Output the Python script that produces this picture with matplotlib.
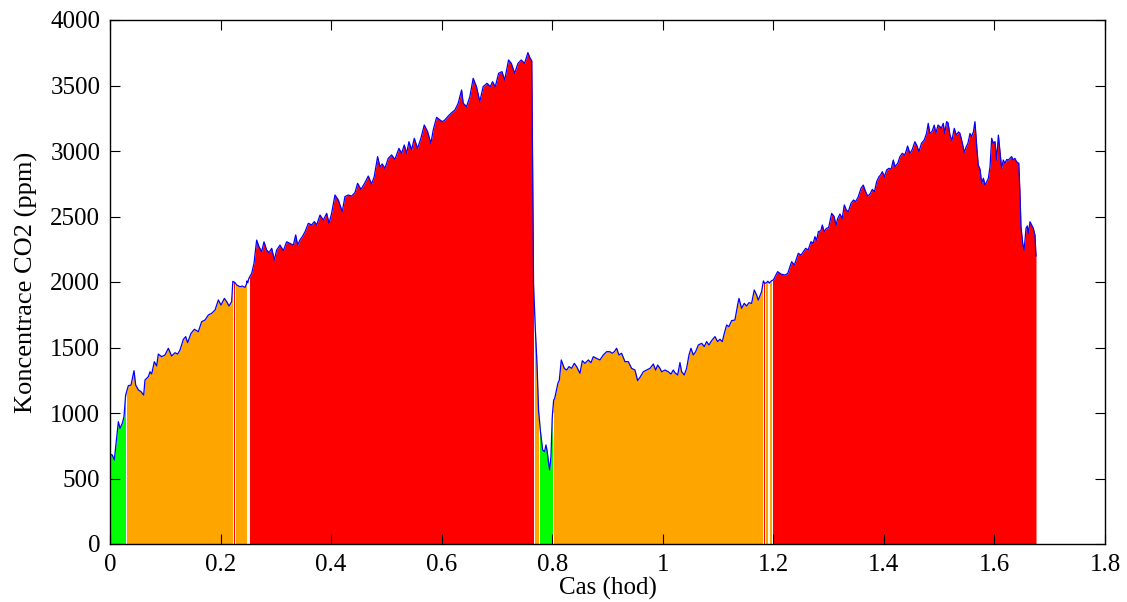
import numpy as np
import matplotlib
matplotlib.use("Agg")
import matplotlib.pyplot as plt
from matplotlib.ticker import FormatStrFormatter

# cas mereni (hod) a koncentrace CO2 (ppm)
hours = [
    0.0000, 0.0042, 0.0078, 0.0103, 0.0151, 0.0181, 0.0223, 0.0253, 0.0283, 0.0332,
    0.0380, 0.0434, 0.0465, 0.0513, 0.0561, 0.0609, 0.0633, 0.0693, 0.0724, 0.0754,
    0.0802, 0.0844, 0.0874, 0.0935, 0.0995, 0.1055, 0.1115, 0.1176, 0.1224, 0.1266,
    0.1327, 0.1369, 0.1405, 0.1465, 0.1526, 0.1598, 0.1658, 0.1719, 0.1779, 0.1839,
    0.1900, 0.1960, 0.2008, 0.2069, 0.2111, 0.2153, 0.2201, 0.2222, 0.2262, 0.2292,
    0.2352, 0.2394, 0.2443, 0.2470, 0.2478, 0.2490, 0.2515, 0.2563, 0.2605, 0.2653,
    0.2695, 0.2743, 0.2786, 0.2834, 0.2876, 0.2925, 0.2973, 0.3015, 0.3075, 0.3136,
    0.3196, 0.3256, 0.3317, 0.3359, 0.3395, 0.3437, 0.3479, 0.3528, 0.3588, 0.3648,
    0.3696, 0.3739, 0.3799, 0.3859, 0.3920, 0.3962, 0.4009, 0.4070, 0.4130, 0.4202,
    0.4250, 0.4311, 0.4371, 0.4431, 0.4479, 0.4540, 0.4612, 0.4672, 0.4732, 0.4780,
    0.4841, 0.4883, 0.4925, 0.4973, 0.5034, 0.5094, 0.5154, 0.5227, 0.5275, 0.5323,
    0.5366, 0.5408, 0.5456, 0.5504, 0.5564, 0.5624, 0.5685, 0.5745, 0.5805, 0.5847,
    0.5908, 0.5968, 0.6010, 0.6058, 0.6119, 0.6179, 0.6239, 0.6299, 0.6360, 0.6390,
    0.6450, 0.6510, 0.6570, 0.6630, 0.6690, 0.6750, 0.6820, 0.6880, 0.6920, 0.6970,
    0.7030, 0.7090, 0.7140, 0.7210, 0.7260, 0.7320, 0.7380, 0.7440, 0.7500, 0.7560,
    0.7600, 0.7630, 0.7662, 0.7693, 0.7724, 0.7754, 0.7760, 0.7784, 0.7826, 0.7862,
    0.7887, 0.7905, 0.7935, 0.7953, 0.7977, 0.8000, 0.8008, 0.8026, 0.8044, 0.8104,
    0.8128, 0.8164, 0.8218, 0.8261, 0.8303, 0.8351, 0.8399, 0.8442, 0.8502, 0.8544,
    0.8592, 0.8653, 0.8701, 0.8743, 0.8803, 0.8863, 0.8924, 0.8984, 0.9044, 0.9086,
    0.9123, 0.9165, 0.9207, 0.9255, 0.9316, 0.9376, 0.9436, 0.9497, 0.9545, 0.9587,
    0.9648, 0.9708, 0.9768, 0.9829, 0.9871, 0.9907, 0.9949, 0.9979, 1.0040, 1.0100,
    1.0148, 1.0190, 1.0220, 1.0269, 1.0311, 1.0341, 1.0389, 1.0431, 1.0474, 1.0510,
    1.0552, 1.0594, 1.0643, 1.0703, 1.0751, 1.0793, 1.0835, 1.0883, 1.0944, 1.0992,
    1.1034, 1.1077, 1.1113, 1.1155, 1.1197, 1.1245, 1.1305, 1.1354, 1.1378, 1.1426,
    1.1474, 1.1516, 1.1559, 1.1607, 1.1655, 1.1697, 1.1727, 1.1788, 1.1820, 1.1845,
    1.1880, 1.1900, 1.1925, 1.1975, 1.2000, 1.2078, 1.2140, 1.2211, 1.2260, 1.2331,
    1.2380, 1.2452, 1.2500, 1.2585, 1.2630, 1.2681, 1.2720, 1.2753, 1.2785, 1.2814,
    1.2860, 1.2886, 1.2920, 1.2960, 1.3000, 1.3055, 1.3100, 1.3133, 1.3165, 1.3205,
    1.3245, 1.3284, 1.3320, 1.3356, 1.3405, 1.3450, 1.3490, 1.3537, 1.3585, 1.3627,
    1.3660, 1.3706, 1.3750, 1.3790, 1.3830, 1.3869, 1.3911, 1.3940, 1.3971, 1.4010,
    1.4050, 1.4091, 1.4130, 1.4170, 1.4200, 1.4250, 1.4290, 1.4332, 1.4380, 1.4429,
    1.4470, 1.4510, 1.4561, 1.4600, 1.4634, 1.4680, 1.4730, 1.4772, 1.4802, 1.4830,
    1.4870, 1.4911, 1.4940, 1.4980, 1.5015, 1.5040, 1.5074, 1.5100, 1.5134, 1.5160,
    1.5196, 1.5230, 1.5273, 1.5310, 1.5350, 1.5377, 1.5420, 1.5454, 1.5490, 1.5520,
    1.5558, 1.5587, 1.5620, 1.5647, 1.5680, 1.5707, 1.5740, 1.5768, 1.5800, 1.5830,
    1.5860, 1.5890, 1.5920, 1.5950, 1.5980, 1.6010, 1.6040, 1.6071, 1.6100, 1.6130,
    1.6160, 1.6190, 1.6221, 1.6250, 1.6280, 1.6310, 1.6340, 1.6370, 1.6400, 1.6440,
    1.6462, 1.6480, 1.6511, 1.6535, 1.6553, 1.6571, 1.6595, 1.6613, 1.6643, 1.6673,
    1.6703, 1.6733, 1.6752,
]
co2 = [
    687, 679, 641, 743, 934, 883, 921, 972, 1137, 1209,
    1213, 1323, 1213, 1176, 1163, 1137, 1252, 1277, 1315, 1298,
    1392, 1359, 1450, 1430, 1443, 1494, 1435, 1460, 1450, 1481,
    1562, 1583, 1537, 1608, 1639, 1621, 1697, 1710, 1748, 1761,
    1786, 1863, 1824, 1875, 1850, 1817, 1850, 2005, 1995, 1977,
    1964, 1969, 1959, 1985, 2008, 1995, 2030, 2066, 2142, 2320,
    2270, 2232, 2307, 2244, 2224, 2257, 2168, 2244, 2282, 2239,
    2307, 2295, 2282, 2359, 2282, 2321, 2346, 2384, 2448, 2436,
    2461, 2436, 2511, 2473, 2524, 2448, 2524, 2664, 2626, 2537,
    2652, 2664, 2656, 2682, 2753, 2707, 2758, 2809, 2748, 2804,
    2957, 2880, 2901, 2868, 2944, 2970, 2936, 3020, 2982, 3046,
    2982, 3071, 3008, 3097, 3020, 3097, 3198, 3148, 3058, 3160,
    3257, 3237, 3224, 3237, 3267, 3292, 3313, 3364, 3466, 3364,
    3339, 3415, 3555, 3491, 3377, 3491, 3517, 3491, 3529, 3491,
    3593, 3606, 3542, 3695, 3669, 3593, 3669, 3695, 3669, 3751,
    3708, 3690, 1990, 1650, 1380, 1010, 990, 870, 718, 705,
    756, 718, 618, 565, 667, 960, 1010, 1099, 1110, 1229,
    1250, 1405, 1341, 1328, 1354, 1341, 1379, 1354, 1303, 1399,
    1379, 1405, 1384, 1430, 1417, 1405, 1443, 1468, 1468, 1456,
    1468, 1494, 1443, 1456, 1392, 1392, 1341, 1328, 1247, 1272,
    1315, 1328, 1341, 1374, 1328, 1366, 1341, 1315, 1328, 1315,
    1297, 1328, 1308, 1290, 1385, 1315, 1290, 1341, 1443, 1494,
    1443, 1468, 1519, 1532, 1507, 1545, 1519, 1552, 1583, 1545,
    1563, 1545, 1608, 1672, 1659, 1705, 1710, 1824, 1875, 1799,
    1837, 1817, 1842, 1837, 1939, 1901, 1862, 1926, 2008, 1990,
    1995, 2006, 1992, 2012, 2015, 2079, 2060, 2053, 2065, 2155,
    2130, 2219, 2205, 2257, 2245, 2308, 2295, 2346, 2320, 2384,
    2392, 2435, 2384, 2410, 2415, 2524, 2500, 2435, 2485, 2519,
    2485, 2588, 2550, 2537, 2601, 2626, 2614, 2651, 2715, 2740,
    2700, 2656, 2672, 2707, 2690, 2766, 2804, 2817, 2842, 2804,
    2855, 2868, 2860, 2931, 2880, 2906, 2957, 2982, 2970, 3038,
    2982, 3008, 3071, 3038, 2995, 3059, 3084, 3135, 3211, 3135,
    3148, 3198, 3135, 3198, 3186, 3173, 3211, 3134, 3224, 3216,
    3121, 3080, 3173, 3121, 3146, 3134, 3059, 2990, 3033, 3059,
    3134, 3110, 3146, 3224, 3033, 2893, 2860, 2753, 2792, 2740,
    2765, 2792, 2880, 3097, 3059, 3072, 2931, 3121, 2995, 2868,
    2931, 2906, 2935, 2931, 2944, 2957, 2931, 2944, 2918, 2906,
    2677, 2423, 2296, 2244, 2321, 2410, 2428, 2371, 2460, 2435,
    2410, 2358, 2198,
]
limits = [1000, 2000]
level_colors = ["#00ff00", "#ffa500", "#ff0000"]

t = np.array(hours)
y = np.array(co2, dtype=float)
level = np.digitize(y, limits)

plt.rcParams['font.family'] = ['Liberation Serif', 'DejaVu Serif']
plt.rcParams['font.size'] = 18

fig = plt.figure(figsize=(11.27, 6.02), dpi=100)
ax = fig.add_axes([110 / 1127, 1 - 544 / 602, 995 / 1127, 524 / 602])

# barevne useky podle urovne, bila mezera na kazdem prechodu
starts = [0] + [i for i in range(1, len(y)) if level[i] != level[i - 1]]
ends = starts[1:] + [len(y) - 1]
for s, e in zip(starts, ends):
    ax.fill_between(t[s:e + 1], y[s:e + 1], 0, color=level_colors[level[s]],
                    linewidth=0, antialiased=False)
for s in starts[1:]:
    ax.vlines(t[s], 0, y[s], color="white", linewidth=0.7)

ax.plot(t, y, color="blue", linewidth=0.9)

ax.set_xlim(0, 1.8)
ax.set_ylim(0, 4000)
ax.set_xticks(np.arange(0, 1.81, 0.2))
ax.set_yticks(np.arange(0, 4001, 500))
ax.xaxis.set_major_formatter(FormatStrFormatter('%g'))
ax.tick_params(direction="in", length=7, width=0.8, top=True, right=True)
ax.tick_params(axis="x", pad=7)
ax.tick_params(axis="y", pad=7)
for sp in ax.spines.values():
    sp.set_linewidth(1.0)

ax.set_xlabel("Cas (hod)", labelpad=1)
ax.set_ylabel("Koncentrace CO2 (ppm)", fontsize=19, labelpad=9)

fig.savefig("out.png", dpi=100)
